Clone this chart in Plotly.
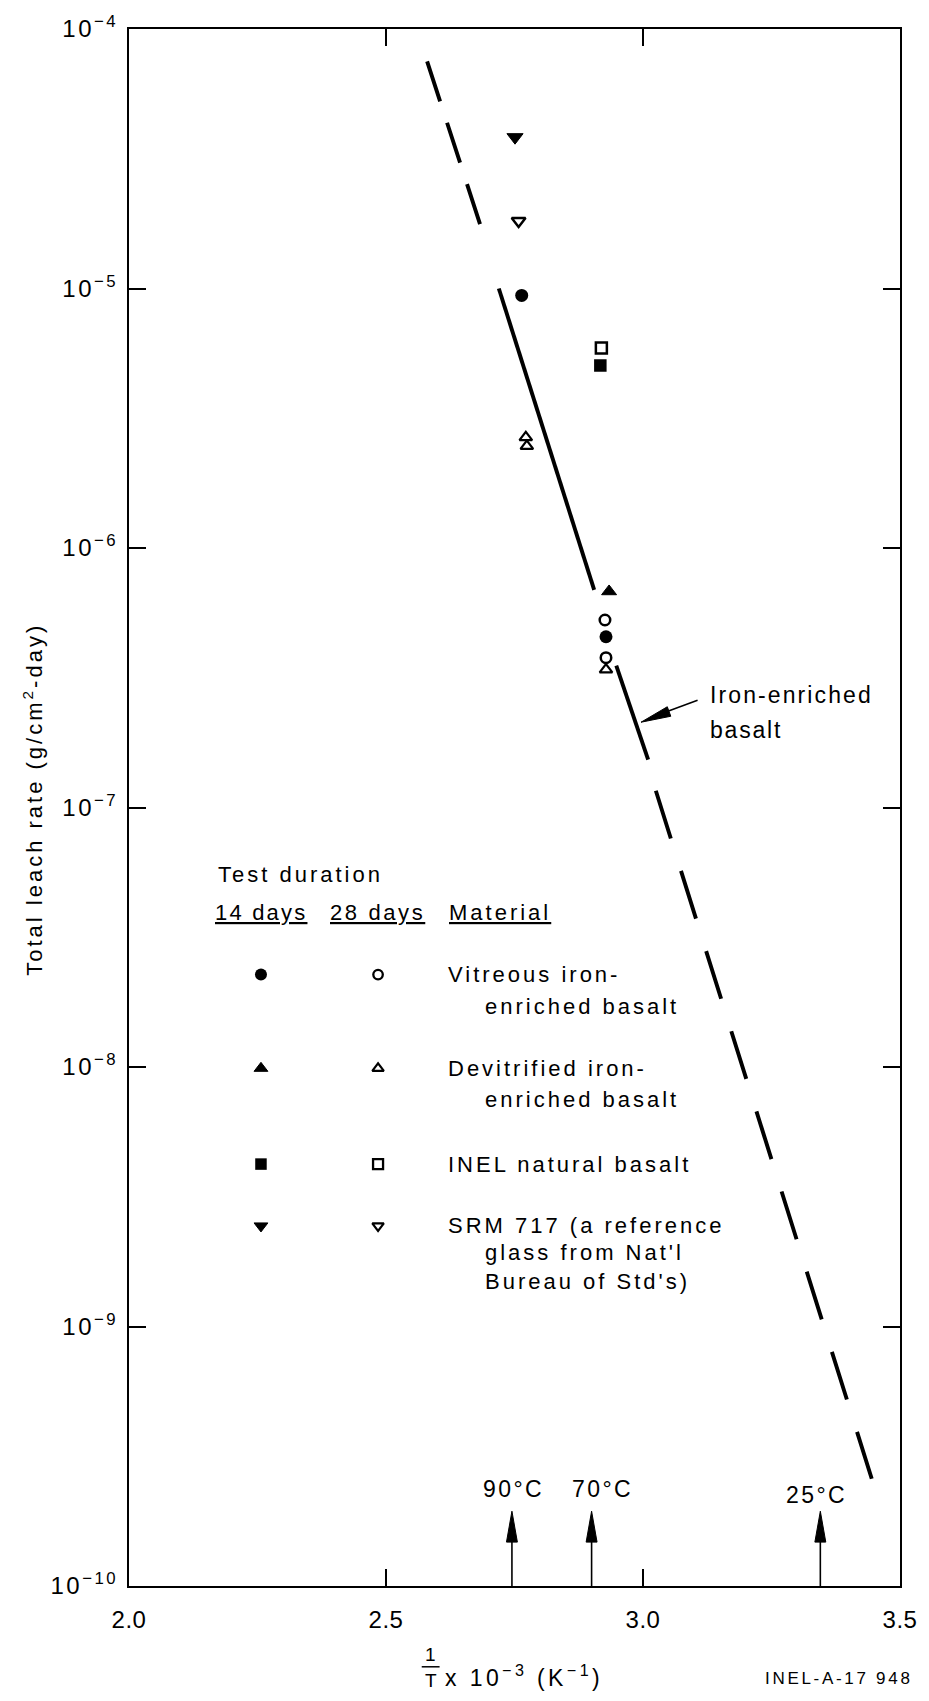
import plotly.graph_objects as go

# ---------------- data ----------------
# 1/T x 10^-3 (K^-1) and total leach rate (g/cm2-day)
vit14_x = [2.764, 2.928]          # vitreous iron-enriched basalt, 14 days
vit14_y = [9.4e-6, 4.55e-7]
vit28_x = [2.926, 2.928]          # vitreous iron-enriched basalt, 28 days
vit28_y = [5.28e-7, 3.78e-7]
dev14_x = [2.934]                 # devitrified iron-enriched basalt, 14 days
dev14_y = [6.8e-7]
dev28_x = [2.772, 2.774, 2.928]   # devitrified iron-enriched basalt, 28 days
dev28_y = [2.67e-6, 2.47e-6, 3.40e-7]
inel14_x = [2.917]                # INEL natural basalt, 14 days
inel14_y = [5.05e-6]
inel28_x = [2.919]                # INEL natural basalt, 28 days
inel28_y = [5.9e-6]
srm14_x = [2.751]                 # SRM 717, 14 days
srm14_y = [3.83e-5]
srm28_x = [2.758]                 # SRM 717, 28 days
srm28_y = [1.82e-5]

# iron-enriched basalt trend line, four drawn pieces (end points)
trend_x = [[2.580, 2.683], [2.7195, 2.905], [2.948, 3.010], [3.025, 3.445]]
trend_y = [[7.5e-5, 1.77e-5], [1.0e-5, 6.9e-7], [3.52e-7, 1.53e-7], [1.16e-7, 2.59e-10]]

temp_labels = ["90°C", "70°C", "25°C"]
temp_x = [2.745, 2.900, 3.345]

x_tickvals = [2.0, 2.5, 3.0, 3.5]
x_ticktext = ["2.0", "2.5", "3.0", "3.5"]
y_exponents = [-4, -5, -6, -7, -8, -9, -10]
y_ticktext = ["10<sup>−4</sup>", "10<sup>−5</sup>", "10<sup>−6</sup>", "10<sup>−7</sup>",
              "10<sup>−8</sup>", "10<sup>−9</sup>", "10<sup>−10</sup>"]

legend_titles = ["Test duration", "14 days", "28 days", "Material"]
legend_materials = [["Vitreous iron-", "enriched basalt"],
                    ["Devitrified iron-", "enriched basalt"],
                    ["INEL natural basalt"],
                    ["SRM 717 (a reference", "glass from Nat'l", "Bureau of Std's)"]]

# ---------------- styles / layout ----------------
FONT = "Liberation Sans, Arial, Helvetica, sans-serif"
W, H = 929, 1701
ML, MR, MT, MB = 129, 23, 25, 115
PW, PH = W - ML - MR, H - MT - MB


def px(xp):
    return (xp - ML) / PW


def py(yp):
    return (H - MB - yp) / PH


def spaced(s, size, ls):
    return f'<span style="font-size:{size}px;letter-spacing:{ls}px">{s}</span>'


trend_dash = ["42px,22.5px", "solid", "solid", "50px,34px"]

fig = go.Figure()

for xs, ys, d in zip(trend_x, trend_y, trend_dash):
    fig.add_trace(go.Scatter(x=xs, y=ys, mode="lines",
                             line=dict(color="black", width=3.9, dash=d),
                             showlegend=False, hoverinfo="skip"))

series = [
    (vit14_x, vit14_y, "circle", 13, 0),
    (vit28_x, vit28_y, "circle-open", 10.5, 2.5),
    (dev14_x, dev14_y, "triangle-up", 13, 1),
    (dev28_x, dev28_y, "triangle-up-open", 11, 2.2),
    (inel14_x, inel14_y, "square", 12.5, 0),
    (inel28_x, inel28_y, "square-open", 11, 2.5),
    (srm14_x, srm14_y, "triangle-down", 14, 1),
    (srm28_x, srm28_y, "triangle-down-open", 12, 2.5),
]
for xs, ys, sym, sz, lw in series:
    fig.add_trace(go.Scatter(x=xs, y=ys, mode="markers",
                             marker=dict(symbol=sym, size=sz, color="black",
                                         line=dict(color="black", width=lw)),
                             showlegend=False))

# legend key glyphs on an invisible overlay axis in paper units
leg_rows_y = [973, 1067, 1163, 1225]
leg_cols_x = [262, 380]
leg_syms = [("circle", 12, 0, "circle-open", 9.5, 2.3),
            ("triangle-up", 12, 1, "triangle-up-open", 10, 2.2),
            ("square", 11.5, 0, "square-open", 10, 2.3),
            ("triangle-down", 12, 1, "triangle-down-open", 10, 2.2)]
for ry, (s1, z1, w1, s2, z2, w2) in zip(leg_rows_y, leg_syms):
    for cx, s, z, w in ((leg_cols_x[0], s1, z1, w1), (leg_cols_x[1], s2, z2, w2)):
        fig.add_trace(go.Scatter(x=[px(cx)], y=[py(ry)], mode="markers", xaxis="x2", yaxis="y2",
                                 marker=dict(symbol=s, size=z, color="black", opacity=1,
                                             line=dict(color="black", width=w)),
                                 showlegend=False, hoverinfo="skip"))


def txt(s, x, y, size=22, ls=3, xanchor="left", angle=0):
    return dict(text=spaced(s, size, ls), x=px(x), y=py(y),
                xref="paper", yref="paper", xanchor=xanchor, yanchor="middle", showarrow=False,
                align="left" if xanchor == "left" else ("right" if xanchor == "right" else "center"),
                textangle=angle, font=dict(family=FONT, size=size, color="black"))


ann = []
# legend text
ann.append(txt(legend_titles[0], 217, 873))
ann.append(txt(f"<u>{legend_titles[1]}</u>", 214, 911, ls=2.2))
ann.append(txt(f"<u>{legend_titles[2]}</u>", 330, 911, ls=2.6))
ann.append(txt(f"<u>{legend_titles[3]}</u>", 449, 911))
mat_first_y = [973, 1067, 1163, 1225]
mat_rest_y = [1005, 1098, None, 1266]
for lines, y1, y2 in zip(legend_materials, mat_first_y, mat_rest_y):
    ann.append(txt(lines[0], 448, y1))
    if len(lines) > 1:
        ann.append(txt("<br>".join(lines[1:]), 486, y2))

# iron-enriched basalt label
ann.append(txt("Iron-enriched", 713, 693, size=23, ls=2.1))
ann.append(txt("basalt", 713, 728, size=23, ls=1.8))

# temperature labels
temp_label_dx = [1, 10, -5]
temp_label_y = [1489, 1489, 1495]
for lab, tx, dx, ly in zip(temp_labels, temp_x, temp_label_dx, temp_label_y):
    ann.append(dict(text=spaced(lab, 23, 2.4), x=tx, xref="x",
                    y=py(ly), yref="paper", xshift=dx + 1, xanchor="center", yanchor="middle",
                    showarrow=False, font=dict(family=FONT, size=23, color="black")))

# y axis title
ann.append(txt("Total leach rate (g/cm<sup>2</sup>-day)", 32, 797, size=22, ls=3,
               xanchor="center", angle=-90))

# x axis title: 1/T x 10^-3 (K^-1)
ann.append(txt("1", 433, 1655, size=19, ls=0, xanchor="center"))
ann.append(txt("T", 433, 1681, size=19, ls=0, xanchor="center"))
ann.append(txt("x 10<sup>−3</sup> (K<sup>−1</sup>)", 445, 1676, size=23, ls=3.4))

# figure id
ann.append(txt("INEL-A-17 948", 921, 1679, size=17, ls=2.7, xanchor="right"))

shapes = []
# fraction bar
shapes.append(dict(type="line", xref="paper", yref="paper", x0=px(424), x1=px(442),
                   y0=py(1667), y1=py(1667), line=dict(color="black", width=1.5)))
# temperature arrows
hw = 5.5 * 1.5 / PW
for tx in temp_x:
    shapes.append(dict(type="line", xref="x", yref="paper", x0=tx, x1=tx, y0=0, y1=py(1538),
                       line=dict(color="black", width=1.6)))
    shapes.append(dict(type="path", xref="x", yref="paper",
                       path=f"M {tx - hw},{py(1542)} L {tx},{py(1511)} L {tx + hw},{py(1542)} Z",
                       fillcolor="black", line=dict(color="black", width=1)))
# pointer to the trend line
shapes.append(dict(type="line", xref="paper", yref="paper", x0=px(702), y0=py(698),
                   x1=px(672), y1=py(709), line=dict(color="black", width=1.6)))
shapes.append(dict(type="path", xref="paper", yref="paper",
                   path=f"M {px(645)},{py(720)} L {px(675)},{py(714)} L {px(671.5)},{py(704.5)} Z",
                   fillcolor="black", line=dict(color="black", width=1)))

axis_common = dict(showline=True, linecolor="black", linewidth=2, mirror="ticks",
                   ticks="inside", ticklen=17, tickwidth=1.5, tickcolor="black",
                   showgrid=False, zeroline=False,
                   tickfont=dict(family=FONT, size=24, color="black"))

fig.update_layout(
    width=W, height=H,
    margin=dict(l=ML, r=MR, t=MT, b=MB),
    paper_bgcolor="white", plot_bgcolor="white",
    showlegend=False,
    xaxis=dict(range=[2.0, 3.5], tickvals=x_tickvals,
               ticktext=[spaced(t, 24, 0.5) for t in x_ticktext],
               ticklabelstandoff=11, **axis_common),
    yaxis=dict(type="log", range=[-10, -4], tickvals=[10.0 ** e for e in y_exponents],
               ticktext=[spaced(t, 24, 2.5) for t in y_ticktext], ticklabelstandoff=4, **axis_common),
    xaxis2=dict(range=[0, 1], overlaying="x", visible=False, anchor="y2"),
    yaxis2=dict(range=[0, 1], overlaying="y", visible=False, anchor="x2"),
    annotations=ann,
    shapes=shapes,
)

fig.write_html("out.html")
